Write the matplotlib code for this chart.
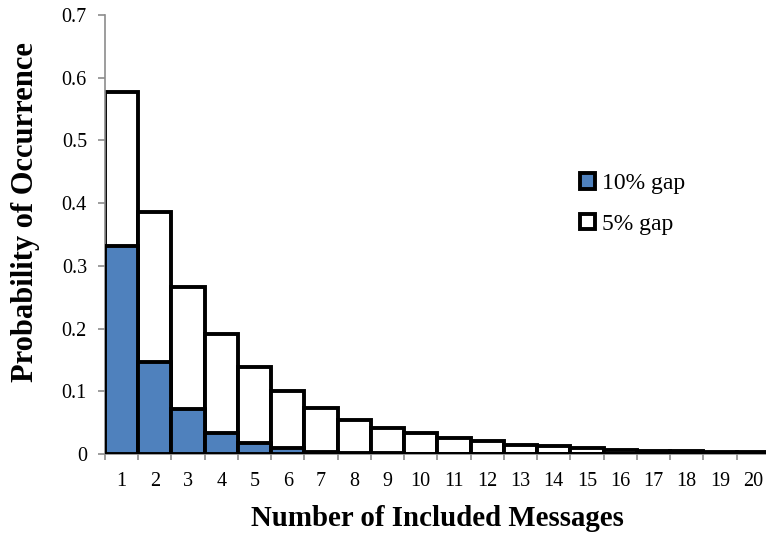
import numpy as np
import matplotlib
matplotlib.use('Agg')
import matplotlib.pyplot as plt
from matplotlib.ticker import FixedLocator

plt.rcParams['font.family'] = ['Liberation Serif', 'DejaVu Serif']

# 数据
messages = list(range(1, 21))
gap5 = [0.577, 0.386, 0.267, 0.191, 0.138, 0.100, 0.073, 0.055, 0.042, 0.033,
        0.026, 0.020, 0.015, 0.012, 0.009, 0.007, 0.005, 0.004, 0.003, 0.003]
gap10 = [0.331, 0.147, 0.071, 0.034, 0.017, 0.009, 0.003, 0.002, 0.001, 0.0005,
         0, 0, 0, 0, 0, 0, 0, 0, 0, 0]
yticks = [0, 0.1, 0.2, 0.3, 0.4, 0.5, 0.6, 0.7]
ytick_labels = ['0', '0.1', '0.2', '0.3', '0.4', '0.5', '0.6', '0.7']

fig = plt.figure(figsize=(7.66, 5.36), dpi=100)
ax = fig.add_axes([0.137, 0.153, 0.868, 0.819])

ax.bar(messages, gap5, width=1.0, color='white', edgecolor='black',
       linewidth=2.8, label='5% gap', zorder=2)
ax.bar(messages, gap10, width=1.0, color='#4f81bd', edgecolor='black',
       linewidth=2.8, label='10% gap', zorder=3)

ax.set_xlim(0.5, 20.5)
ax.set_ylim(0, 0.7)
ax.set_yticks(yticks)
ax.set_yticklabels(ytick_labels)

# 类别标签居中，刻度线在边界
ax.set_xticks(messages)
ax.set_xticklabels([str(m) for m in messages])
ax.xaxis.set_minor_locator(FixedLocator(np.arange(0.5, 21, 1)))
ax.tick_params(axis='x', which='major', length=0, pad=13, labelsize=14.5)
ax.tick_params(axis='x', which='minor', length=4.5, color='#8c8c8c', width=1.2)
ax.tick_params(axis='y', length=5, color='#8c8c8c', width=1.2, pad=8, labelsize=14.5)

for s in ['top', 'right']:
    ax.spines[s].set_visible(False)
for s in ['left', 'bottom']:
    ax.spines[s].set_color('#8c8c8c')
    ax.spines[s].set_linewidth(1.2)

ax.set_xlabel('Number of Included Messages', fontsize=20.8, fontweight='bold', va='top')
ax.xaxis.set_label_coords(0.5, -0.116)
ax.set_ylabel('Probability of Occurrence', fontsize=22, fontweight='bold')
ax.yaxis.set_label_coords(-0.098, 0.551)

handles, labels = ax.get_legend_handles_labels()
ax.legend(handles[::-1], labels[::-1], loc='upper left', bbox_to_anchor=(0.714, 0.64),
          frameon=False, fontsize=17, handlelength=0.65, handleheight=0.65,
          handletextpad=0.3, labelspacing=0.82, borderpad=0, borderaxespad=0)

fig.savefig('out.png', dpi=100)
